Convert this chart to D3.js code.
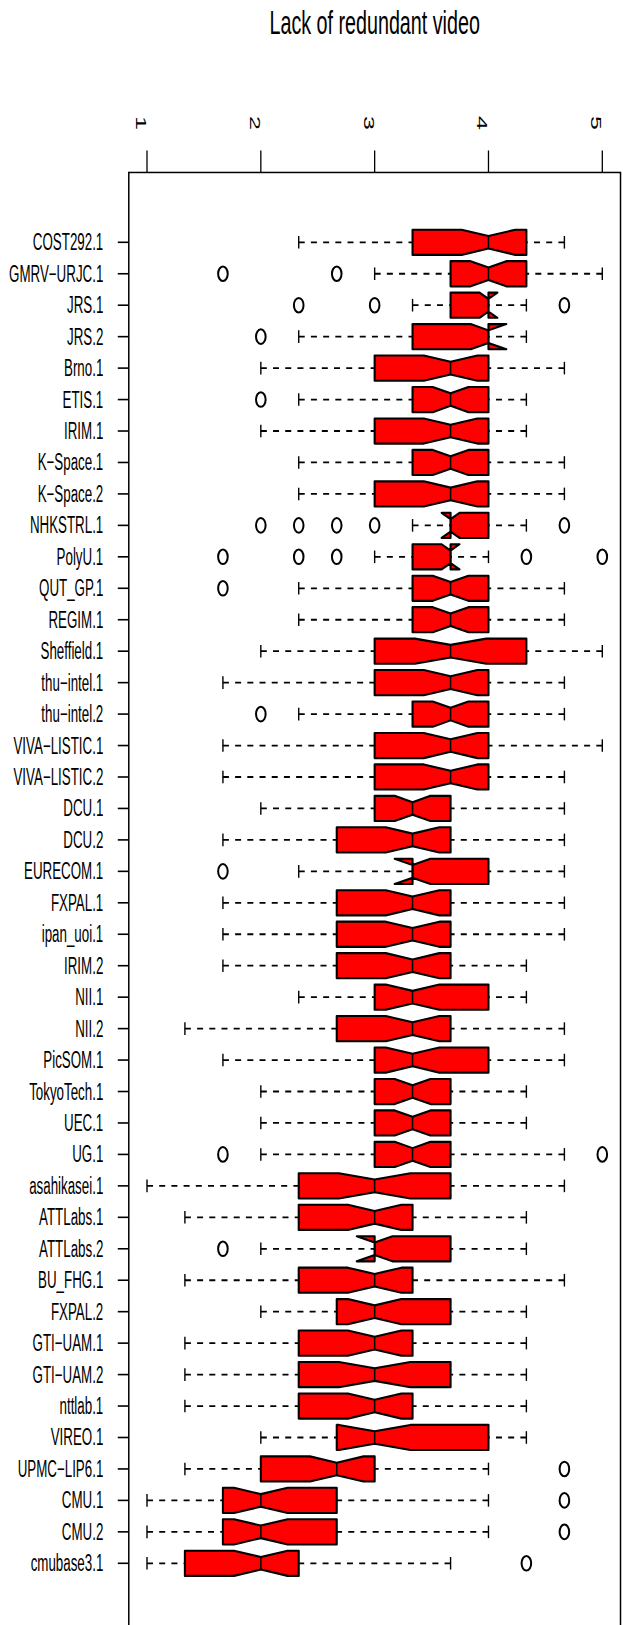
<!DOCTYPE html>
<html><head><meta charset="utf-8">
<script src="https://cdn.jsdelivr.net/npm/d3@7"></script>
<style>body{margin:0;background:#fff}svg{display:block}</style>
</head><body>
<svg id="c" width="623" height="1625"></svg>
<script>
const title = "Lack of redundant video";
const categories = ["COST292.1","GMRV−URJC.1","JRS.1","JRS.2","Brno.1","ETIS.1","IRIM.1","K−Space.1","K−Space.2","NHKSTRL.1","PolyU.1","QUT_GP.1","REGIM.1","Sheffield.1","thu−intel.1","thu−intel.2","VIVA−LISTIC.1","VIVA−LISTIC.2","DCU.1","DCU.2","EURECOM.1","FXPAL.1","ipan_uoi.1","IRIM.2","NII.1","NII.2","PicSOM.1","TokyoTech.1","UEC.1","UG.1","asahikasei.1","ATTLabs.1","ATTLabs.2","BU_FHG.1","FXPAL.2","GTI−UAM.1","GTI−UAM.2","nttlab.1","VIREO.1","UPMC−LIP6.1","CMU.1","CMU.2","cmubase3.1"];
const whiskerLow = [2.333,3,3.333,2.333,2,2.333,2,2.333,2.333,3.333,3,2.333,2.333,2,1.667,2.333,1.667,1.667,2,1.667,2.333,1.667,1.667,1.667,2.333,1.333,1.667,2,2,2,1,1.333,2,1.333,2,1.333,1.333,1.333,2,1.333,1,1,1];
const lowerHinge = [3.333,3.667,3.667,3.333,3,3.333,3,3.333,3,3.667,3.333,3.333,3.333,3,3,3.333,3,3,3,2.667,3.333,2.667,2.667,2.667,3,2.667,3,3,3,3,2.333,2.333,3,2.333,2.667,2.333,2.333,2.333,2.667,2,1.667,1.667,1.333];
const medians = [4,4,4,4,3.667,3.667,3.667,3.667,3.667,3.667,3.667,3.667,3.667,3.667,3.667,3.667,3.667,3.667,3.333,3.333,3.333,3.333,3.333,3.333,3.333,3.333,3.333,3.333,3.333,3.333,3,3,3,3,3,3,3,3,3,2.667,2,2,2];
const upperHinge = [4.333,4.333,4,4,4,4,4,4,4,4,3.667,4,4,4.333,4,4,4,4,3.667,3.667,4,3.667,3.667,3.667,4,3.667,4,3.667,3.667,3.667,3.667,3.333,3.667,3.333,3.667,3.333,3.667,3.333,4,3,2.667,2.667,2.333];
const whiskerHigh = [4.667,5,4.333,4.333,4.667,4.333,4.333,4.667,4.667,4.333,4,4.667,4.667,5,4.667,4.667,5,4.667,4.667,4.667,4.667,4.667,4.667,4.333,4.333,4.667,4.667,4.333,4.333,4.667,4.667,4.333,4.333,4.667,4.333,4.333,4.333,4.333,4.333,4,4,4,3.667];
const outliers = [[],[1.667,2.667],[2.333,3,4.667],[2],[],[2],[],[],[],[2,2.333,2.667,3,4.667],[1.667,2.333,2.667,4.333,5],[1.667],[],[],[],[2],[],[],[],[],[1.667],[],[],[],[],[],[],[],[],[1.667,5],[],[],[1.667],[],[],[],[],[],[],[4.667],[4.667],[4.667],[4.333]];
const sampleSize = 45;
const tickValues = [1,2,3,4,5];
const tickLabels = ["1","2","3","4","5"];

const SX = 0.58;
const FONT = "'Liberation Sans', Arial, Helvetica, sans-serif";
const svg = d3.select("#c");
const n = categories.length;
const x = d3.scaleLinear().domain([1,5]).range([147,602.3]);
const y = d3.scaleLinear().domain([1,n]).range([242.3,1563.3]);
const xPad = 0.04*(5-1), yPad = 0.04*n;
const fx0 = x(1-xPad), fx1 = x(5+xPad), fy0 = y(0.5-yPad), fy1 = y(n+0.5+yPad);

// title
svg.append("text").attr("transform",`translate(${(fx0+fx1)/2},34) scale(${SX},1)`)
  .attr("text-anchor","middle").attr("font-family",FONT).attr("font-size",34).text(title);

// frame
svg.append("rect").attr("x",fx0).attr("y",fy0).attr("width",fx1-fx0).attr("height",fy1-fy0)
  .attr("fill","none").attr("stroke","#000").attr("stroke-width",1.5);

// top axis
const ax = svg.append("g");
ax.selectAll("line").data(tickValues).join("line")
  .attr("x1",d=>x(d)).attr("x2",d=>x(d)).attr("y1",fy0).attr("y2",fy0-22)
  .attr("stroke","#000").attr("stroke-width",1.3);
ax.selectAll("text").data(tickValues).join("text")
  .attr("transform",d=>`translate(${x(d)-11},123) scale(${SX},1) rotate(90)`)
  .attr("text-anchor","middle").attr("font-family",FONT).attr("font-size",25)
  .text((d,i)=>tickLabels[i]);

// left axis
const ay = svg.append("g");
ay.selectAll("line").data(categories).join("line")
  .attr("x1",fx0).attr("x2",fx0-11).attr("y1",(d,i)=>y(i+1)).attr("y2",(d,i)=>y(i+1))
  .attr("stroke","#000").attr("stroke-width",1.6);
ay.selectAll("text").data(categories).join("text")
  .attr("transform",(d,i)=>`translate(103.3,${y(i+1)+8}) scale(${SX},1)`)
  .attr("text-anchor","end").attr("font-family",FONT).attr("font-size",23).text(d=>d);

const W = 0.4, NF = 0.5, ST = 0.5*W;
const g = svg.append("g");
for (let i=0;i<n;i++){
  const r = i+1;
  if (whiskerLow[i] < lowerHinge[i])
    g.append("line").attr("x1",x(whiskerLow[i])).attr("x2",x(lowerHinge[i])).attr("y1",y(r)).attr("y2",y(r))
     .attr("stroke","#000").attr("stroke-width",1.8).attr("stroke-dasharray","6,6.2");
  if (whiskerHigh[i] > upperHinge[i])
    g.append("line").attr("x1",x(whiskerHigh[i])).attr("x2",x(upperHinge[i])).attr("y1",y(r)).attr("y2",y(r))
     .attr("stroke","#000").attr("stroke-width",1.8).attr("stroke-dasharray","6,6.2");
  [whiskerLow[i], whiskerHigh[i]].forEach(v=>{
    g.append("line").attr("x1",x(v)).attr("x2",x(v)).attr("y1",y(r-ST)).attr("y2",y(r+ST))
     .attr("stroke","#000").attr("stroke-width",1.4);
  });
  const half = 1.58*(upperHinge[i]-lowerHinge[i])/Math.sqrt(sampleSize);
  const cl = medians[i]-half, ch = medians[i]+half;
  const pts = [[lowerHinge[i],r-W],[lowerHinge[i],r+W],[cl,r+W],[medians[i],r+W*NF],[ch,r+W],[upperHinge[i],r+W],
               [upperHinge[i],r-W],[ch,r-W],[medians[i],r-W*NF],[cl,r-W]];
  g.append("polygon").attr("points",pts.map(p=>[x(p[0]),y(p[1])].join(",")).join(" "))
   .attr("fill","#ff0000").attr("stroke","#000").attr("stroke-width",2.1).attr("stroke-linejoin","round");
  g.append("line").attr("x1",x(medians[i])).attr("x2",x(medians[i])).attr("y1",y(r-W*NF)).attr("y2",y(r+W*NF))
   .attr("stroke","#000").attr("stroke-width",1.5);
  outliers[i].forEach(v=>{
    g.append("ellipse").attr("cx",x(v)).attr("cy",y(r)).attr("rx",4.8).attr("ry",7.3)
     .attr("fill","none").attr("stroke","#000").attr("stroke-width",2);
  });
}
</script>
</body></html>
